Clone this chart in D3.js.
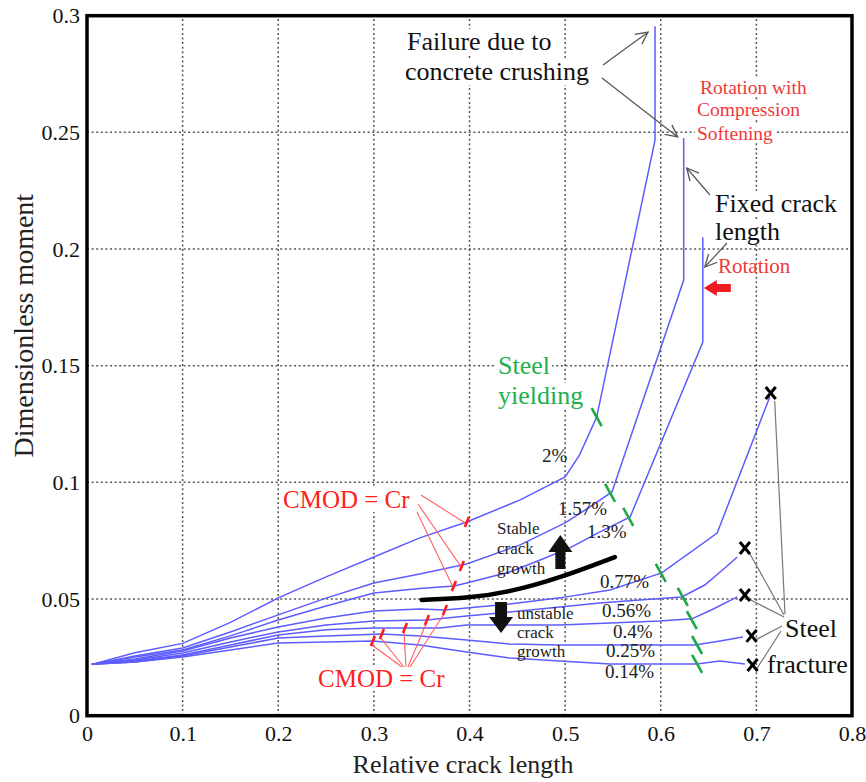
<!DOCTYPE html>
<html>
<head>
<meta charset="utf-8">
<script src="https://cdn.jsdelivr.net/npm/d3@7"></script>
<style>
  body { margin: 0; background: #fff; }
  svg { display: block; font-family: "Liberation Serif", "Times New Roman", serif; }
</style>
</head>
<body>
<div id="chart"></div>
<script>
// axis ticks
const xTicks = [0, 0.1, 0.2, 0.3, 0.4, 0.5, 0.6, 0.7, 0.8];
const yTicks = [0, 0.05, 0.1, 0.15, 0.2, 0.25, 0.3];

// reinforcement ratios (curve labels)
const ratios = ["2%", "1.57%", "1.3%", "0.77%", "0.56%", "0.4%", "0.25%", "0.14%"];

// [relative crack length, dimensionless moment]
const rho200 = [[0.005,0.022],[0.05,0.027],[0.1,0.031],[0.15,0.040],[0.2,0.0505],[0.25,0.0595],[0.3,0.068],[0.348,0.0762],[0.397,0.083],[0.453,0.0925],[0.5,0.1023],[0.515,0.1117],[0.533,0.128],[0.594,0.2467],[0.594,0.2955]];
const rho157 = [[0.005,0.022],[0.05,0.0256],[0.1,0.029],[0.15,0.0359],[0.2,0.0432],[0.25,0.0504],[0.3,0.0569],[0.348,0.0607],[0.397,0.065],[0.453,0.0732],[0.5,0.0826],[0.526,0.0895],[0.549,0.0959],[0.624,0.1867],[0.624,0.2476]];
const rho130 = [[0.005,0.022],[0.05,0.0252],[0.1,0.0282],[0.15,0.0342],[0.2,0.041],[0.25,0.047],[0.3,0.0526],[0.348,0.0545],[0.384,0.0556],[0.397,0.0569],[0.442,0.0616],[0.474,0.0667],[0.505,0.0719],[0.536,0.0787],[0.568,0.0852],[0.644,0.1601],[0.644,0.2051]];
const rho077 = [[0.005,0.022],[0.05,0.0243],[0.1,0.0277],[0.15,0.0333],[0.2,0.038],[0.25,0.0419],[0.3,0.0449],[0.348,0.0457],[0.374,0.0453],[0.397,0.0462],[0.442,0.0479],[0.4945,0.0505],[0.547,0.0539],[0.601,0.0612],[0.659,0.0783],[0.714,0.1366]];
const rho056 = [[0.005,0.022],[0.05,0.0239],[0.1,0.0269],[0.15,0.0316],[0.2,0.0359],[0.25,0.0389],[0.3,0.0406],[0.3555,0.041],[0.397,0.0427],[0.442,0.0444],[0.4945,0.0466],[0.536,0.0483],[0.578,0.0496],[0.622,0.0509],[0.646,0.056],[0.667,0.0633],[0.68,0.068]];
const rho040 = [[0.005,0.022],[0.05,0.0234],[0.1,0.026],[0.15,0.0303],[0.2,0.0346],[0.25,0.0368],[0.3,0.0376],[0.3325,0.0376],[0.369,0.0376],[0.397,0.0389],[0.442,0.0389],[0.4945,0.0389],[0.547,0.0397],[0.599,0.0406],[0.6325,0.0415],[0.6534,0.0454],[0.68,0.0509]];
const rho025 = [[0.005,0.022],[0.05,0.023],[0.1,0.0256],[0.15,0.0294],[0.2,0.0333],[0.25,0.0342],[0.308,0.035],[0.348,0.0342],[0.397,0.0324],[0.442,0.0307],[0.4945,0.0303],[0.547,0.0303],[0.599,0.0303],[0.636,0.0303],[0.662,0.032],[0.686,0.0337]];
const rho014 = [[0.005,0.022],[0.05,0.023],[0.1,0.0252],[0.15,0.0282],[0.2,0.0312],[0.25,0.0316],[0.299,0.032],[0.348,0.0303],[0.397,0.0273],[0.442,0.0247],[0.4945,0.0234],[0.547,0.0222],[0.599,0.0222],[0.6377,0.0222],[0.6618,0.0234],[0.688,0.0222]];

// CMOD = Cr points, steel yielding points, steel fracture points (same order as ratios)
const crackOpen = [[0.3973,0.083],[0.392,0.0642],[0.3837,0.0556],[0.3743,0.0453],[0.3555,0.041],[0.3325,0.0376],[0.3084,0.035],[0.299,0.032]];
const yieldPts = [[0.533,0.128],[0.547,0.0955],[0.566,0.0852],[0.600,0.0612],[0.623,0.0509],[0.6325,0.041],[0.638,0.0303],[0.638,0.0222]];
const fracturePts = [[0.715,0.1383],[0.688,0.0719],[0.688,0.0517],[0.695,0.0342],[0.696,0.0217]];

// boundary between stable and unstable crack growth
const boundary = [[0.350,0.0496],[0.400,0.0505],[0.442,0.053],[0.494,0.059],[0.552,0.068]];

const series = [rho200, rho157, rho130, rho077, rho056, rho040, rho025, rho014];

const W = 866, H = 782;
const svg = d3.select("#chart").append("svg").attr("width", W).attr("height", H);

const x = d3.scaleLinear().domain([0, 0.8]).range([87, 852]);
const y = d3.scaleLinear().domain([0, 0.3]).range([715.7, 15.7]);

const defs = svg.append("defs");
defs.append("marker").attr("id", "open")
  .attr("viewBox", "0 0 14 14").attr("refX", 13).attr("refY", 7)
  .attr("markerWidth", 14).attr("markerHeight", 14)
  .attr("markerUnits", "userSpaceOnUse").attr("orient", "auto")
  .append("path").attr("d", "M1,1 L13,7 L1,13")
  .attr("fill", "none").attr("stroke", "#555").attr("stroke-width", 1.3);

// grid
const grid = svg.append("g");
grid.selectAll("line.gx").data(xTicks.slice(1, -1)).enter().append("line")
  .attr("x1", d => x(d)).attr("x2", d => x(d)).attr("y1", y(0)).attr("y2", y(0.3))
  .attr("stroke", "#555").attr("stroke-width", 1.5).attr("stroke-dasharray", "2,2.6");
grid.selectAll("line.gy").data(yTicks.slice(1, -1)).enter().append("line")
  .attr("y1", d => y(d)).attr("y2", d => y(d)).attr("x1", x(0)).attr("x2", x(0.8))
  .attr("stroke", "#555").attr("stroke-width", 1.5).attr("stroke-dasharray", "2,2.6");

const bgLayer = svg.append("g");
const lineLayer = svg.append("g");
const textLayer = svg.append("g");

// axes
const fixText = g => g.selectAll("text")
  .attr("font-size", 22).attr("font-family", "Liberation Serif").attr("fill", "#111");
svg.append("g").attr("transform", `translate(${x(0)},0)`)
  .call(d3.axisLeft(y).tickValues(yTicks).tickSize(0).tickPadding(7).tickFormat(d => String(d)))
  .call(g => g.select(".domain").remove()).call(fixText);
svg.append("g").attr("transform", `translate(0,${y(0)})`)
  .call(d3.axisBottom(x).tickValues(xTicks).tickSize(0).tickPadding(10).tickFormat(d => String(d)))
  .call(g => g.select(".domain").remove()).call(fixText);

svg.append("rect")
  .attr("x", x(0)).attr("y", y(0.3)).attr("width", x(0.8) - x(0)).attr("height", y(0) - y(0.3))
  .attr("fill", "none").attr("stroke", "#000").attr("stroke-width", 3.5);

svg.append("text").attr("transform", `translate(33,${(y(0) + y(0.3)) / 2 - 40}) rotate(-90)`)
  .attr("text-anchor", "middle").attr("font-size", 28).attr("fill", "#222").text("Dimensionless moment");
svg.append("text").attr("x", 463).attr("y", 773)
  .attr("text-anchor", "middle").attr("font-size", 26).attr("fill", "#222").text("Relative crack length");

// curves
const line = d3.line().x(d => x(d[0])).y(d => y(d[1]));
lineLayer.selectAll("path.curve").data(series).enter().append("path")
  .attr("d", line).attr("fill", "none")
  .attr("stroke", "#5c5cff").attr("stroke-width", 1.5);

lineLayer.append("path").datum(boundary)
  .attr("d", d3.line().x(d => x(d[0])).y(d => y(d[1])).curve(d3.curveBasis))
  .attr("fill", "none").attr("stroke", "#000").attr("stroke-width", 4.5).attr("stroke-linecap", "round");

// leader lines
const lead = (x1, y1, x2, y2, col, w, arrow) => {
  const l = lineLayer.append("line").attr("x1", x1).attr("y1", y1).attr("x2", x2).attr("y2", y2)
    .attr("stroke", col).attr("stroke-width", w);
  if (arrow) l.attr("marker-end", "url(#open)");
};
// CMOD = Cr (upper three curves)
lead(421, 495, x(crackOpen[0][0]), y(crackOpen[0][1]) + 2, "#ff6060", 1.1);
lead(418, 504, x(crackOpen[1][0]), y(crackOpen[1][1]) + 2, "#ff6060", 1.1);
lead(417, 512, x(crackOpen[2][0]), y(crackOpen[2][1]) + 3, "#ff6060", 1.1);
// CMOD = Cr (lower five curves)
crackOpen.slice(3).forEach((d, i) => {
  lead(410 - i * 2, 667, x(d[0]) - 1, y(d[1]) + 4, "#ff6060", 1.1);
});
// steel fracture
const hubs = [[785, 614], [784, 615], [784, 617], [782, 626], [781, 631]];
fracturePts.forEach((d, i) => {
  const dy = i === 0 ? 8 : 4;
  lead(hubs[i][0], hubs[i][1], x(d[0]) + 4, y(d[1]) + dy, "#777", 1.2);
});
// failure / fixed crack arrows
lead(603, 65, x(rho200[14][0]) - 7, y(rho200[14][1]) + 6, "#555", 1.2, true);
lead(602, 78, x(rho157[14][0]) - 6, y(rho157[14][1]) - 1, "#555", 1.2, true);
lead(710, 195, x(rho157[14][0]) + 3, 168, "#555", 1.2, true);
lead(727, 243, x(rho130[16][0]) + 2, 267, "#555", 1.2, true);

// CMOD = Cr ticks
lineLayer.selectAll("line.cr").data(crackOpen).enter().append("line")
  .attr("x1", d => x(d[0]) - 2).attr("y1", d => y(d[1]) + 5)
  .attr("x2", d => x(d[0]) + 2).attr("y2", d => y(d[1]) - 5)
  .attr("stroke", "#ff1a1a").attr("stroke-width", 2.6);

// steel yielding ticks
lineLayer.selectAll("line.yl").data(yieldPts).enter().append("line")
  .attr("x1", d => x(d[0]) - 5).attr("y1", d => y(d[1]) - 9)
  .attr("x2", d => x(d[0]) + 5).attr("y2", d => y(d[1]) + 9)
  .attr("stroke", "#1ca845").attr("stroke-width", 2.6);

// steel fracture crosses
const cross = lineLayer.selectAll("g.fx").data(fracturePts).enter().append("g")
  .attr("transform", d => `translate(${x(d[0])},${y(d[1])})`);
cross.append("line").attr("x1", -5).attr("y1", -6).attr("x2", 5).attr("y2", 6)
  .attr("stroke", "#000").attr("stroke-width", 3);
cross.append("line").attr("x1", 5).attr("y1", -6).attr("x2", -5).attr("y2", 6)
  .attr("stroke", "#000").attr("stroke-width", 3);

// block arrows
const upX = x(0.495), dnX = x(0.433);
lineLayer.append("path")
  .attr("d", `M${upX},535 L${upX + 12},552 L${upX + 5},552 L${upX + 5},569 L${upX - 5},569 L${upX - 5},552 L${upX - 12},552 Z`)
  .attr("fill", "#111");
lineLayer.append("path")
  .attr("d", `M${dnX},633 L${dnX + 12},617 L${dnX + 6},617 L${dnX + 6},602 L${dnX - 6},602 L${dnX - 6},617 L${dnX - 12},617 Z`)
  .attr("fill", "#111");
const rX = x(rho130[16][0]) + 1;
lineLayer.append("path")
  .attr("d", `M${rX},288 L${rX + 13},280 L${rX + 13},284 L${rX + 27},284 L${rX + 27},292 L${rX + 13},292 L${rX + 13},296 Z`)
  .attr("fill", "#ee1c24");

// texts
const notes = [
  ["Failure due to", 407, 50, 26, "#111", true],
  ["concrete crushing", 405, 80, 26, "#111", true],
  ["Rotation with", 700, 94, 19.5, "#f0383a", true],
  ["Compression", 697, 116, 19.5, "#f0383a", true],
  ["Softening", 697, 140, 19.5, "#f0383a", true],
  ["Fixed crack", 715, 212, 26, "#111", true],
  ["length", 715, 240, 26, "#111", true],
  ["Rotation", 718, 273, 21, "#f0383a", false],
  ["Steel", 498, 374, 26, "#22b04a", true],
  ["yielding", 498, 404, 26, "#22b04a", true],
  ["CMOD = Cr", 283, 508, 25, "#ff2020", true],
  ["CMOD = Cr", 318, 687, 25, "#ff2020", true],
  ["Stable", 497, 534, 17, "#222", false],
  ["crack", 497, 554, 17, "#222", false],
  ["growth", 497, 574, 17, "#222", false],
  ["unstable", 517, 619, 17, "#222", true],
  ["crack", 517, 638, 17, "#222", true],
  ["growth", 517, 657, 17, "#222", true],
  ["Steel", 785, 637, 26, "#111", false],
  ["fracture", 767, 673, 26, "#111", false]
];
const ratioPos = [[542, 462], [558, 515], [587, 538], [600, 588], [602, 617], [613, 638], [606, 657], [605, 678]];

notes.forEach(n => {
  const t = textLayer.append("text").attr("x", n[1]).attr("y", n[2])
    .attr("font-size", n[3]).attr("fill", n[4]).text(n[0]);
  if (n[5]) {
    const b = t.node().getBBox();
    bgLayer.append("rect").attr("x", b.x - 2).attr("y", b.y + 2)
      .attr("width", b.width + 4).attr("height", b.height - 3).attr("fill", "#fff");
  }
});
textLayer.selectAll("text.ratio").data(ratios).enter().append("text")
  .attr("x", (d, i) => ratioPos[i][0]).attr("y", (d, i) => ratioPos[i][1])
  .attr("font-size", 19).attr("fill", "#222").text(d => d);
</script>
</body>
</html>
